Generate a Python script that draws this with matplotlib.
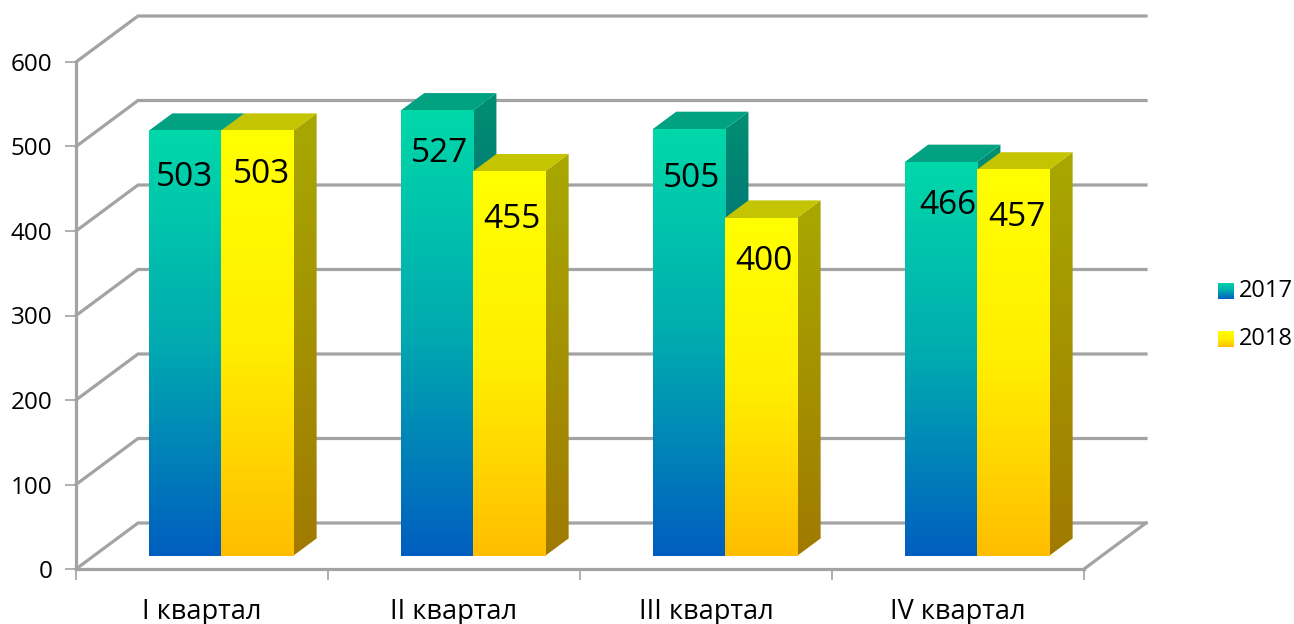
"""Rebuild of an Excel-style 3D clustered column chart using plain 2D matplotlib."""
import matplotlib
matplotlib.use("Agg")
import matplotlib.pyplot as plt
import numpy as np
from matplotlib.colors import LinearSegmentedColormap
from matplotlib.patches import Polygon

plt.rcParams["font.family"] = ["Open Sans", "Noto Sans", "DejaVu Sans"]

quarters = ["I квартал", "II квартал", "III квартал", "IV квартал"]
values_2017 = [503, 527, 505, 466]
values_2018 = [503, 455, 400, 457]
years = ["2017", "2018"]
y_ticks = [0, 100, 200, 300, 400, 500, 600]

W, H = 1294, 624
X0, X1, Y0, Y1 = 76, 1084, 569, 62   # front plane of the chart, pixels
PX_X = (X1 - X0) / 4
PX_Y = (Y0 - Y1) / 600

# depth of the box as (categories, value units)
DEPTH = (62 / PX_X, 46 / PX_Y)
BAR_D0, BAR_D1 = 0.283, 0.665        # bars sit in this slice of the depth
BAR_W = 72.2 / PX_X
BAR_GAP = 55 / PX_X

GRID = "#a3a3a3"

STYLES = [
    {"front": ["#00d8a9", "#00aab0", "#005ec0"], "side": ["#008f72", "#003c80"], "top": "#00a281"},
    {"front": ["#ffff00", "#ffee00", "#ffbe00"], "side": ["#a8a800", "#a07a00"], "top": "#c4c400"},
]

# label nudges from the bar centre / bar top, pixels (x right, y down)
nudge_2017 = [(0, 47), (3, 43), (3, 49), (7, 43)]
nudge_2018 = [(5, 44), (3, 48), (3, 44), (4, 48)]


def proj(x, y, d):
    return x + d * DEPTH[0], y + d * DEPTH[1]


def gradient(ax, colors, extent, clip=None):
    cmap = LinearSegmentedColormap.from_list("g", colors)
    im = ax.imshow(np.linspace(0, 1, 256).reshape(-1, 1), cmap=cmap, aspect="auto",
                   extent=extent, origin="upper", zorder=3, clip_on=clip is not None)
    if clip is not None:
        im.set_clip_path(clip)
    return im


def draw_bar(ax, x, value, style):
    x2 = x + BAR_W
    fx, fy0 = proj(x, 0, BAR_D0)
    fx2, fy1 = proj(x2, value, BAR_D0)
    bx2, by1 = proj(x2, value, BAR_D1)
    bx, _ = proj(x, value, BAR_D1)
    _, by0 = proj(x2, 0, BAR_D1)

    # side face, clipped out of a gradient rectangle
    side = Polygon([(fx2, fy0), (bx2, by0), (bx2, by1), (fx2, fy1)], closed=True,
                   transform=ax.transData, fc="none", ec="none", clip_on=False)
    ax.add_patch(side)
    gradient(ax, style["side"], (fx2, bx2, fy0, by1), clip=side)

    ax.add_patch(Polygon([(fx, fy1), (fx2, fy1), (bx2, by1), (bx, by1)], closed=True,
                         fc=style["top"], ec="none", zorder=3, clip_on=False))
    gradient(ax, style["front"], (fx, fx2, fy0, fy1))
    return fx, fx2, fy1


fig = plt.figure(figsize=(W / 100, H / 100), dpi=100)
ax = fig.add_axes([X0 / W, (H - Y0) / H, (X1 - X0) / W, (Y0 - Y1) / H])

# walls and floor
for v in y_ticks:
    bx, by = proj(0, v, 1)
    ax.plot([0, bx, bx + 4], [v, by, by], color=GRID, lw=2.3, zorder=1,
            clip_on=False, solid_joinstyle="miter")
bx, by = proj(4, 0, 1)
ax.plot([4, bx], [0, by], color=GRID, lw=2.3, zorder=1, clip_on=False)

series = [values_2017, values_2018]
nudges = [nudge_2017, nudge_2018]
for i in range(len(quarters)):
    for s, vals in enumerate(series):
        x = i + BAR_GAP + s * BAR_W
        fx, fx2, top = draw_bar(ax, x, vals[i], STYLES[s])
        nx, ny = nudges[s][i]
        ax.text((fx + fx2) / 2 + nx / PX_X, top - ny / PX_Y, str(vals[i]),
                ha="center", va="center", fontsize=24, color="black", zorder=5)

ax.set_xlim(0, 4)
ax.set_ylim(0, 600)
ax.set_yticks(y_ticks)
ax.set_xticks(range(5))
ax.set_xticklabels([])
ax.set_xticks([i + 0.5 for i in range(4)], minor=True)
ax.set_xticklabels(quarters, minor=True)
ax.tick_params(axis="x", which="minor", length=0, labelsize=19.5, pad=21)
ax.tick_params(axis="x", which="major", length=8, width=1.2, color=GRID)
ax.tick_params(axis="y", length=8, width=1.2, color=GRID, labelsize=17.5, pad=9)
for name in ("top", "right"):
    ax.spines[name].set_visible(False)
for name in ("left", "bottom"):
    ax.spines[name].set_color(GRID)
    ax.spines[name].set_linewidth(2.3)
ax.set_facecolor("none")

# legend keys
for year, style, py in zip(years, STYLES, (291, 339)):
    key = fig.add_axes([1218 / W, (H - py - 8) / H, 15.5 / W, 16 / H])
    key.imshow(np.linspace(0, 1, 64).reshape(-1, 1), aspect="auto",
               cmap=LinearSegmentedColormap.from_list("k", style["front"]))
    key.axis("off")
    fig.text(1239 / W, (H - py) / H, year, fontsize=17, va="center", ha="left")

fig.savefig("out.png", dpi=100)
